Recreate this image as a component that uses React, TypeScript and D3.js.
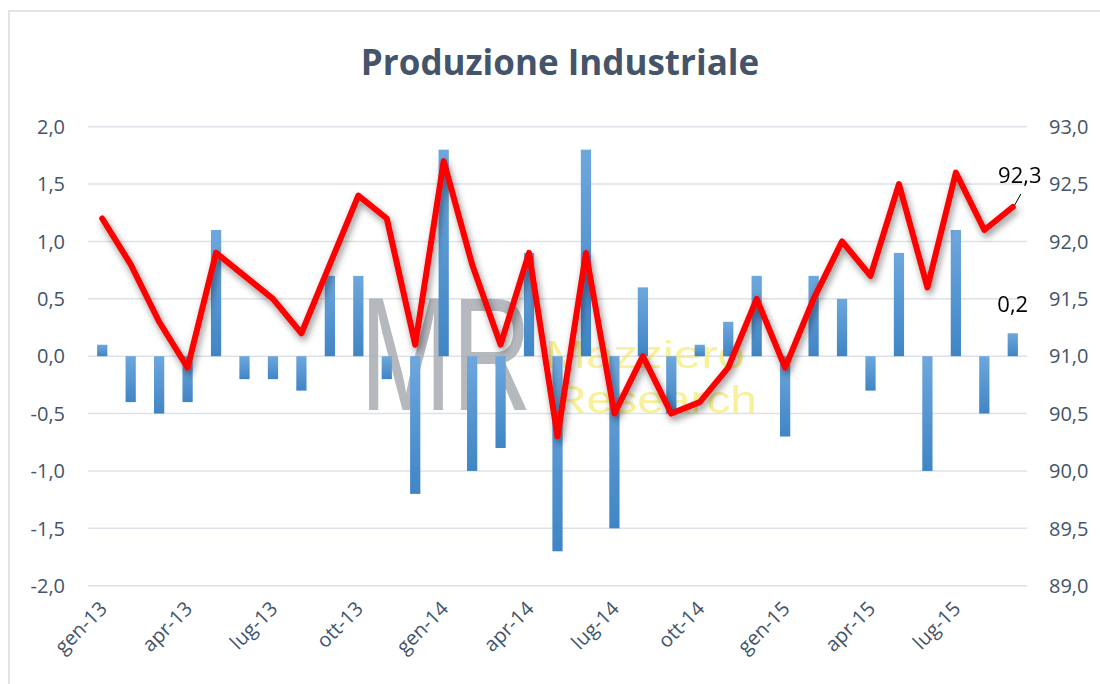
import React from "react";
import * as d3 from "d3";

const months = [
  "gen-13","feb-13","mar-13","apr-13","mag-13","giu-13","lug-13","ago-13","set-13","ott-13","nov-13","dic-13",
  "gen-14","feb-14","mar-14","apr-14","mag-14","giu-14","lug-14","ago-14","set-14","ott-14","nov-14","dic-14",
  "gen-15","feb-15","mar-15","apr-15","mag-15","giu-15","lug-15","ago-15","set-15",
];
const changeMoM = [
  0.1,-0.4,-0.5,-0.4,1.1,-0.2,-0.2,-0.3,0.7,0.7,-0.2,-1.2,
  1.8,-1.0,-0.8,0.9,-1.7,1.8,-1.5,0.6,-0.5,0.1,0.3,0.7,
  -0.7,0.7,0.5,-0.3,0.9,-1.0,1.1,-0.5,0.2,
];
const indexLevel = [
  92.2,91.8,91.3,90.9,91.9,91.7,91.5,91.2,91.8,92.4,92.2,91.1,
  92.7,91.8,91.1,91.9,90.3,91.9,90.5,91.0,90.5,90.6,90.9,91.5,
  90.9,91.5,92.0,91.7,92.5,91.6,92.6,92.1,92.3,
];
const shownMonthLabels = ["gen-13","apr-13","lug-13","ott-13","gen-14","apr-14","lug-14","ott-14","gen-15","apr-15","lug-15"];
const leftTicks = [-2,-1.5,-1,-0.5,0,0.5,1,1.5,2];
const rightTicks = [89,89.5,90,90.5,91,91.5,92,92.5,93];
const title = "Produzione Industriale";

const fmt = (v: number) => d3.format(".1f")(v).replace(".", ",").replace("−", "-");

export default function App() {
  const W = 1100, H = 684;
  const left = 88, right = 1027, top = 126.7, bottom = 585.7;
  const x = d3.scaleBand<string>().domain(months).range([left, right]).paddingInner(0.64).paddingOuter(0.32);
  const yL = d3.scaleLinear().domain([-2, 2]).range([bottom, top]);
  const yR = d3.scaleLinear().domain([89, 93]).range([bottom, top]);
  const cx = (m: string) => (x(m) as number) + x.bandwidth() / 2;
  const line = d3.line<number>().x((_, i) => cx(months[i])).y((d) => yR(d));
  const textColor = "#44546a";
  const font = "'Open Sans', 'Noto Sans', sans-serif";
  const last = months.length - 1;

  return (
    <svg width={W} height={H} style={{ position: "fixed", left: 0, top: 0, background: "#fff" }}>
      <defs>
        <linearGradient id="barGrad" x1="0" y1="0" x2="0" y2="1">
          <stop offset="0" stopColor="#6ea7dd" />
          <stop offset="1" stopColor="#3f85c5" />
        </linearGradient>
        <filter id="shadow" x="-10%" y="-20%" width="120%" height="140%">
          <feDropShadow dx="2" dy="4" stdDeviation="3.5" floodColor="#000" floodOpacity="0.45" />
        </filter>
      </defs>
      <rect x={9} y={11} width={1120} height={700} fill="#fff" stroke="#dfe3ea" strokeWidth={2} />
      <text x={560} y={75} textAnchor="middle" fontFamily={font} fontWeight={700} fontSize={35} fill={textColor}>
        {title}
      </text>
      {leftTicks.map((t) => (
        <line key={"g" + t} x1={left} x2={right} y1={yL(t)} y2={yL(t)} stroke="#dde1e8" strokeWidth={1.5} />
      ))}
      {leftTicks.map((t) => (
        <text key={"l" + t} x={65} y={yL(t)} dy="0.36em" textAnchor="end" fontFamily={font} fontSize={20} fill={textColor}>
          {fmt(t)}
        </text>
      ))}
      {rightTicks.map((t) => (
        <text key={"r" + t} x={1049} y={yR(t)} dy="0.36em" textAnchor="start" fontFamily={font} fontSize={20} fill={textColor}>
          {fmt(t)}
        </text>
      ))}
      {/* watermark */}
      <g opacity={0.85}>
        <text transform="translate(360,410) scale(0.96,1.4)" fontFamily="'Liberation Sans', sans-serif" fontSize={115} fill="#a8adb3">
          MR
        </text>
        <text x={545} y={368} fontFamily="'Liberation Sans', sans-serif" fontSize={38} fill="#f6ea6a" opacity={0.8}
          textLength={200} lengthAdjust="spacingAndGlyphs">
          Mazziero
        </text>
        <text x={552} y={413} fontFamily="'Liberation Sans', sans-serif" fontSize={38} fill="#f6ea6a" opacity={0.8}
          textLength={205} lengthAdjust="spacingAndGlyphs">
          Research
        </text>
      </g>
      {changeMoM.map((v, i) => (
        <rect
          key={"b" + i}
          x={x(months[i])}
          width={x.bandwidth()}
          y={Math.min(yL(v), yL(0))}
          height={Math.abs(yL(v) - yL(0))}
          fill="url(#barGrad)"
        />
      ))}
      <path d={line(indexLevel) || ""} fill="none" stroke="#ff0000" strokeWidth={6} strokeLinejoin="round" strokeLinecap="round" filter="url(#shadow)" />
      {shownMonthLabels.map((m) => (
        <text
          key={"x" + m}
          transform={`translate(${cx(m) + 6},${610}) rotate(-45)`}
          textAnchor="end"
          fontFamily={font}
          fontSize={20}
          fill={textColor}
        >
          {m}
        </text>
      ))}
      <text x={cx(months[last]) + 7} y={183} textAnchor="middle" fontFamily={font} fontSize={22} fill="#000">
        {fmt(indexLevel[last])}
      </text>
      <line x1={cx(months[last]) + 8} y1={194} x2={cx(months[last]) + 2} y2={yR(indexLevel[last]) - 2} stroke="#000" strokeWidth={1} />
      <text x={cx(months[last])} y={312} textAnchor="middle" fontFamily={font} fontSize={22} fill="#000">
        {fmt(changeMoM[last])}
      </text>
    </svg>
  );
}
